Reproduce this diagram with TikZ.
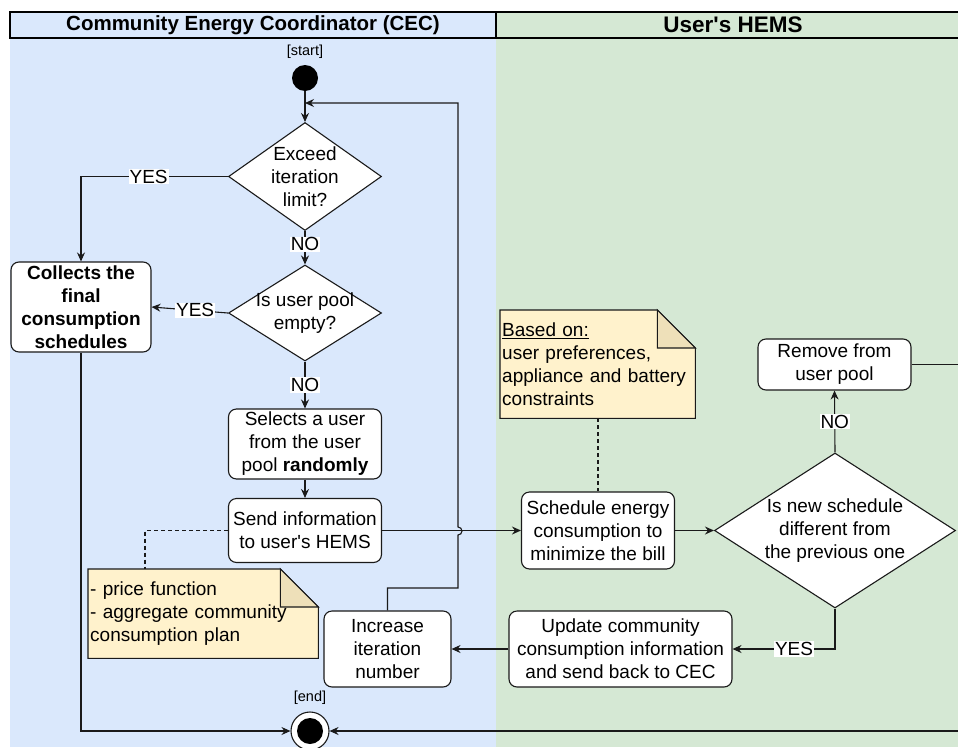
\documentclass[tikz,border=0pt]{standalone}
\usepackage{fontspec}
\setmainfont{Liberation Sans}
\usetikzlibrary{shapes.geometric,arrows.meta,calc}
\definecolor{lblue}{HTML}{DAE8FC}
\definecolor{lgreen}{HTML}{D5E8D4}
\definecolor{notey}{HTML}{FFF2CC}
\definecolor{notefold}{HTML}{EEE0B9}
\definecolor{strk}{HTML}{1A1A1A}
\pgfdeclarelayer{lanes}
\pgfdeclarelayer{notes}
\pgfsetlayers{lanes,notes,main}
\begin{document}
\begin{tikzpicture}[x=1pt,y=-1pt,
  every node/.style={font=\fontsize{19}{23}\selectfont},
  box/.style={draw=strk, fill=white, rounded corners=8pt, align=center, inner sep=0pt, line width=1.1pt},
  dec/.style={diamond, draw=strk, fill=white, inner sep=0pt, line width=1.1pt},
  lbl/.style={fill=white, inner sep=1pt, font=\fontsize{19}{22}\selectfont},
  ln/.style={draw=strk, line width=1.1pt},
  arr/.style={ln, -{Stealth[length=9pt,width=8pt,inset=3pt]}},
  dline/.style={draw=strk, line width=1.1pt, dash pattern=on 4pt off 3pt},
  notetxt/.style={anchor=north west, align=left, inner sep=2pt},
  notedraw/.style={draw=strk, line width=1.1pt, line join=miter},
  smalllbl/.style={font=\fontsize{14.5}{16}\selectfont, label distance=3pt}
]
\useasboundingbox (0,0) rectangle (958,747);

% lanes
\begin{pgfonlayer}{lanes}
  \fill[lblue] (10,12) rectangle (496,747);
  \fill[lgreen] (496,12) rectangle (958,747);
\end{pgfonlayer}
\draw[line width=2pt, line join=miter] (958,12) -- (10,12) -- (10,38) -- (958,38);
\draw[line width=2pt] (496,12) -- (496,38);
\node[font=\fontsize{20.5}{24}\selectfont\bfseries] (h1) at (253,25) {Community Energy Coordinator (CEC)};
\node[font=\fontsize{22.5}{26}\selectfont\bfseries] (h2) at (733,25) {User\textquotesingle s HEMS};

% CEC lane
\node[circle, fill=black, minimum size=26pt, inner sep=0pt,
      label={[smalllbl]above:{[start]}}] (start) at (305,78) {};
\node[dec, minimum width=153pt, minimum height=108pt,
      label={[align=center]center:{Exceed\\iteration\\limit?}}] (d1) at (305,176.5) {};
\node[dec, minimum width=153pt, minimum height=96pt,
      label={[align=center]center:{Is user pool\\empty?}}] (d2) at (305,313) {};
\node[box, minimum width=140pt, minimum height=90pt, font=\fontsize{19}{23}\selectfont\bfseries]
      (coll) at (81,307) {Collects the\\final\\consumption\\schedules};
\node[box, minimum width=153pt, minimum height=70pt] (sel) at (305,444)
      {Selects a user\\from the user\\pool \textbf{randomly}};
\node[box, minimum width=153pt, minimum height=64pt] (send) at (305,530.5)
      {Send information\\to user\textquotesingle s HEMS};
\node[notetxt, text width=226pt, minimum height=89pt] (n1) at (88,569)
      {- price function\\- aggregate community\\consumption plan};
\node[box, minimum width=127pt, minimum height=76pt] (inc) at (387.5,649)
      {Increase\\iteration\\number};
\node[circle, draw=strk, fill=white, line width=1.1pt, minimum size=38pt, inner sep=0pt,
      path picture={\fill[black] (path picture bounding box.center) circle (13pt);},
      label={[smalllbl]above:{[end]}}] (endn) at (310,731) {};

% HEMS lane
\node[notetxt, text width=191pt, minimum height=108pt] (n2) at (500,310)
      {\underline{Based on:}\\user preferences,\\appliance and battery\\constraints};
\node[box, minimum width=153pt, minimum height=77pt] (sched) at (598,530.5)
      {Schedule energy\\consumption to\\minimize the bill};
\node[dec, minimum width=241pt, minimum height=155pt,
      label={[align=center]center:{Is new schedule\\different from\\the previous one}}] (d3) at (835,530.5) {};
\node[box, minimum width=153pt, minimum height=51pt] (rem) at (834.5,364.5)
      {Remove from\\user pool};
\node[box, minimum width=223pt, minimum height=76pt] (upd) at (620.5,649)
      {Update community\\consumption information\\and send back to CEC};

% notes outlines
\begin{pgfonlayer}{notes}
  \foreach \n in {n1,n2}{
    \filldraw[notedraw, fill=notey] (\n.north west) -- ($(\n.north east)+(-38,0)$)
      -- ($(\n.north east)+(0,38)$) -- (\n.south east) -- (\n.south west) -- cycle;
    \filldraw[notedraw, fill=notefold] ($(\n.north east)+(-38,0)$) -- ($(\n.north east)+(-38,38)$)
      -- ($(\n.north east)+(0,38)$) -- cycle;
  }
\end{pgfonlayer}

% coordinates
\coordinate (lpA) at (458,588);
\coordinate (hopS) at (458,535);
\coordinate (lpB) at (458,103);
\coordinate (lpC) at (305,103);
\coordinate (n1top) at ($(n1.north west)+(57,0)$);
\coordinate (remout) at (958,364.5);
\coordinate (endin) at (958,731);

% connectors
\draw[arr] (start) -- (d1);
\draw[arr] (d1.west) -| (coll.north) node[lbl, pos=0.27] {YES};
\draw[arr] (d1.south) -- (d2.north) node[lbl, pos=0.4] {NO};
\draw[arr] (d2.west) -- (coll.east) node[lbl, pos=0.43] {YES};
\draw[arr] (d2.south) -- (sel.north) node[lbl, midway] {NO};
\draw[arr] (sel) -- (send);
\draw[arr] (send.east) -- (sched.west);
\draw[arr] (inc.north) |- (lpA) -- (hopS) arc[start angle=90, end angle=-90, radius=4] -- (lpB) -- (lpC);
\draw[dline] (send.west) -| (n1top);
\draw[dline] (sched.north |- n2.south) -- (sched.north);
\draw[arr] (sched.east) -- (d3.west);
\draw[arr] (d3.north) -- (rem.south) node[lbl, midway] {NO};
\draw[ln] (rem.east) -- (remout);
\draw[arr] (d3.south) |- (upd.east) node[lbl, pos=0.70] {YES};
\draw[arr] (upd.west) -- (inc.east);
\draw[arr] (coll.south) |- (endn.west);
\draw[arr] (endin) -- (endn.east);
\end{tikzpicture}
\end{document}
